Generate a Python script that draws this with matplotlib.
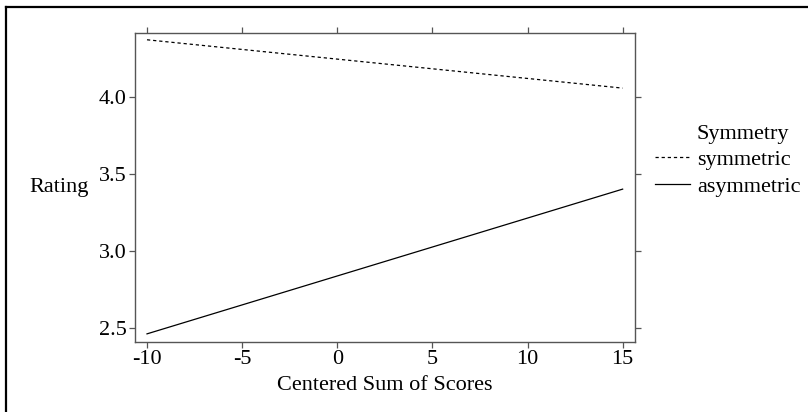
import matplotlib
matplotlib.use("Agg")
import matplotlib.pyplot as plt
from matplotlib.lines import Line2D

# data
x_ends = [-10, 15]
symmetric = [4.37, 4.056]
asymmetric = [2.46, 3.40]
series_names = ["symmetric", "asymmetric"]
x_ticks = [-10, -5, 0, 5, 10, 15]
y_ticks = [2.5, 3.0, 3.5, 4.0]

plt.rcParams["font.family"] = ["Liberation Serif", "DejaVu Serif"]
frame_col = "#555555"
fs = 16

fig = plt.figure(figsize=(8.08, 4.12), dpi=100)
ax = fig.add_axes([0.1671, 0.1706, 0.6188, 0.7493])

ax.plot(x_ends, symmetric, color="black", lw=0.9, dashes=(2.6, 2.3))
ax.plot(x_ends, asymmetric, color="black", lw=0.9)

ax.set_xlim(-10.63, 15.65)
ax.set_ylim(2.409, 4.414)
ax.set_xticks(x_ticks)
ax.set_xticklabels([str(v) for v in x_ticks])
ax.set_yticks(y_ticks)
ax.set_yticklabels(["%.1f" % v for v in y_ticks])

for s in ax.spines.values():
    s.set_color(frame_col)
    s.set_linewidth(1.0)
ax.tick_params(direction="out", length=4, width=0.9, color=frame_col,
               labelsize=fs, top=True, right=True, pad=2)

ax.set_xlabel("Centered Sum of Scores", fontsize=fs, labelpad=5)
ax.set_ylabel("Rating", fontsize=fs, rotation=0, ha="center", va="center")
ax.yaxis.set_label_coords(-0.152, 0.5)

# legend on the right, lattice style
fig.text(697 / 808, 1 - 135 / 412, "Symmetry", fontsize=fs, ha="left", va="center")
handles = [Line2D([], [], color="black", lw=0.9, dashes=(2.6, 2.3)),
           Line2D([], [], color="black", lw=0.9)]
fig.legend(handles, series_names, loc="upper left",
           bbox_to_anchor=(655 / 808, 1 - 149 / 412), frameon=False,
           fontsize=fs, handlelength=1.58, handletextpad=0.32,
           labelspacing=0.3, borderaxespad=0, borderpad=0)

# page border (left and top edges only)
fig.add_artist(Line2D([6 / 808, 6 / 808], [0, 1 - 7 / 412], color="black", lw=1.6,
                      transform=fig.transFigure))
fig.add_artist(Line2D([6 / 808, 1], [1 - 7 / 412, 1 - 7 / 412], color="black", lw=1.6,
                      transform=fig.transFigure))

fig.savefig("out.png", dpi=100)
